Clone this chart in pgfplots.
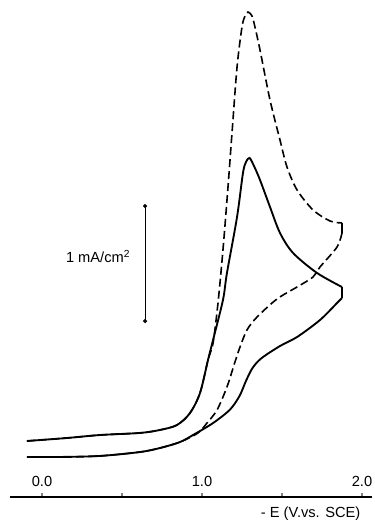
\documentclass[border=0pt]{standalone}
\usepackage{fontspec}
\setmainfont{Liberation Sans}
\usepackage{pgfplots}
\pgfplotsset{compat=1.18}

\pgfplotstableread{
x y
-0.094 0.487
0.156 0.513
0.3625 0.539
0.6125 0.557
0.7375 0.583
0.844 0.626
0.925 0.730
0.9875 0.904
1.0375 1.191
1.069 1.339
1.1 1.687
1.131 2.148
1.1625 2.696
1.1875 3.165
1.219 3.739
1.25 4.087
1.269 4.183
1.2875 4.217
1.3125 4.183
1.331 4.087
1.3625 3.887
1.425 3.452
1.4875 3.104
1.531 2.870
1.594 2.670
1.694 2.496
1.8 2.400
1.875 2.383
}\dashfwd

\pgfplotstableread{
x y
1.875 2.296
1.844 2.174
1.7375 2.0
1.694 1.913
1.594 1.826
1.469 1.722
1.344 1.565
1.281 1.452
1.2375 1.304
1.206 1.174
1.156 0.957
1.094 0.757
1.031 0.643
0.975 0.557
0.8625 0.478
0.7375 0.426
0.6125 0.391
0.3625 0.357
0.1125 0.348
-0.094 0.348
}\dashrev

\pgfplotstableread{
x y
-0.094 0.348
0.1125 0.348
0.3625 0.357
0.6125 0.391
0.7375 0.426
0.8625 0.478
0.944 0.539
1.069 0.643
1.175 0.760
1.235 0.880
1.275 1.010
1.315 1.120
1.370 1.205
1.4875 1.313
1.594 1.391
1.7375 1.539
1.844 1.687
1.875 1.730
}\solidfwd

\pgfplotstableread{
x y
1.875 1.826
1.719 1.948
1.569 2.122
1.4875 2.296
1.425 2.522
1.3625 2.757
1.325 2.878
1.297 2.948
1.275 2.913
1.256 2.817
1.219 2.435
1.156 1.948
1.131 1.713
1.069 1.365
1.0375 1.191
0.9875 0.904
0.925 0.730
0.844 0.626
0.7375 0.583
0.6125 0.557
0.3625 0.539
0.156 0.513
-0.094 0.487
}\solidrev

\begin{document}
\begin{tikzpicture}
\useasboundingbox (0,0) rectangle (280.5pt,390pt);
\begin{axis}[
    at={(7.5pt,17.25pt)},
    anchor=south west,
    x=120pt, y=86.25pt,
    xmin=-0.2, xmax=2.0625,
    ymin=0, ymax=4.3,
    clip=false,
    axis x line*=bottom,
    axis y line=none,
    axis line style={line width=0.9pt},
    xtick={0,0.5,1,1.5,2},
    xticklabels={0.0,,1.0,,2.0},
    major tick length=3pt,
    tick style={line width=0.8pt},
    /pgf/number format/assume math mode=true,
    xticklabel style={anchor=base, yshift=7.5pt, font=\fontsize{11}{13}\selectfont},
    xlabel={- E (V.vs. SCE)},
    xlabel style={at={(rel axis cs:1,0)}, anchor=base east, xshift=-5.25pt, yshift=-15.75pt, font=\fontsize{11}{13}\selectfont},
]
% dashed curve: forward, switching, return
\addplot[black, line width=1.2pt, dash pattern=on 6pt off 3pt, smooth, tension=0.5] table {\dashfwd};
\addplot[black, line width=1.2pt] coordinates {(1.875,2.383) (1.875,2.296)};
\addplot[black, line width=1.2pt, dash pattern=on 6pt off 3pt, smooth, tension=0.5] table {\dashrev};
% solid curve
\addplot[black, line width=1.4pt, smooth, tension=0.5] table {\solidfwd};
\addplot[black, line width=1.4pt] coordinates {(1.875,1.730) (1.875,1.826)};
\addplot[black, line width=1.4pt, smooth, tension=0.5] table {\solidrev};
% scale bar
\addplot[black, line width=0.8pt, mark=*, mark size=1.1pt] coordinates {(0.644,1.53) (0.644,2.53)};
\node[anchor=base east, font=\fontsize{11}{13}\selectfont] at (axis cs:0.581,2.035) {1 mA/cm\textsuperscript{2}};
\end{axis}
\end{tikzpicture}
\end{document}
